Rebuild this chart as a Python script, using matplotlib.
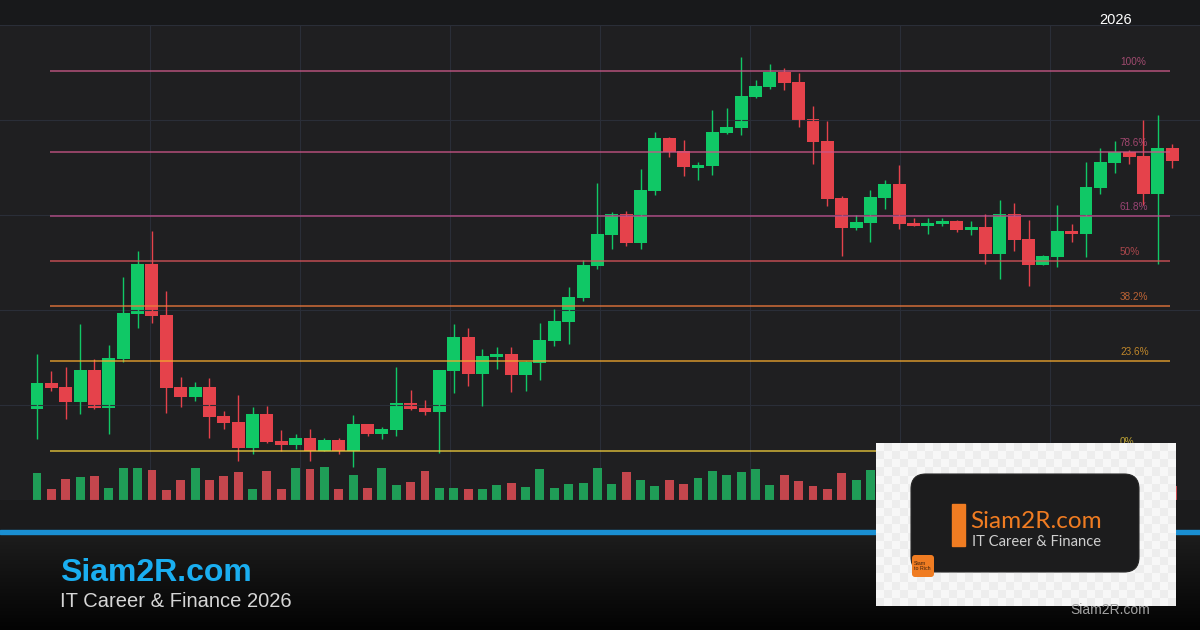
import numpy as np
import matplotlib

matplotlib.use("Agg")
import matplotlib.pyplot as plt
from matplotlib.patches import Rectangle, FancyBboxPatch
from matplotlib.colors import LinearSegmentedColormap, ListedColormap

plt.rcParams["font.family"] = ["Liberation Sans", "DejaVu Sans"]

# ── Data (price units) ──────────────────────────────────────────────────
opens = [91.3, 116.7, 113, 98, 130, 92, 141.3, 186, 236, 185,
         113, 103.3, 113, 84, 78, 52, 86, 59, 55.3, 62,
         49, 60, 49, 76, 66, 70, 97, 92, 88, 129,
         163, 126.3, 143.3, 146, 125, 136.7, 159, 178, 202.3, 234.3,
         265.3, 286, 257.3, 309.3, 362, 349, 332.3, 334, 367, 372,
         403, 413, 428, 418, 381, 359, 302, 272, 277, 302,
         316, 277, 274, 276, 279, 270, 273, 246, 286, 261,
         235, 243, 269, 266, 312, 337, 348, 344, 306, 352]
highs = [145.7, 129, 133, 175.7, 141, 154.7, 222.7, 248.7, 269, 209,
         123, 117.7, 122, 89, 105, 93.3, 94, 70, 66, 71,
         62, 62, 84.7, 76.5, 73.3, 132.7, 110, 100, 130.5, 176,
         171.7, 151, 153, 153, 139, 177, 191, 213, 240, 317,
         288, 288.7, 331, 368, 362.7, 360, 338, 390, 392, 443,
         420, 436, 432, 427, 394, 379, 304, 285, 310, 320,
         335, 282, 282, 282, 280, 279, 286, 300, 297, 280,
         245, 295, 276, 338, 352, 359, 350, 380, 385, 356]
lows = [61.3, 109.3, 81, 86.3, 91, 66.3, 138.3, 172.3, 177.3, 87.3,
        93.3, 99.3, 62.3, 71, 39.3, 45.7, 57.3, 48.7, 51.3, 39.3,
        49, 46.3, 32.7, 64.3, 61.3, 64, 90, 85.3, 47.3, 107,
        114, 94, 131, 108.3, 109.3, 120.3, 154.3, 156.3, 199.3, 231.3,
        251, 254.3, 251, 304.7, 343.3, 324, 320, 325, 365.7, 365,
        402, 411, 410, 373, 336, 294, 244, 270, 258, 291,
        271, 274, 266, 274, 268, 265, 236, 221, 249, 214,
        235, 233, 258, 243, 306, 327, 336, 295, 236, 332]
closes = [116.7, 112.3, 98, 130, 92, 142, 186.7, 236, 184.3, 112.3,
          103.3, 113, 83.3, 77.3, 52, 86, 58.3, 55.3, 62, 49.3,
          60, 49, 76, 66, 71.3, 97, 91, 88, 130, 163,
          126.3, 144, 146, 125, 138, 160, 179, 203, 235, 266,
          286, 257.3, 310, 362, 348, 333.3, 335, 368, 373, 404,
          414, 428, 417, 380, 358, 301, 272, 278, 303, 316,
          276, 274, 277, 279, 270, 273, 246, 286, 260, 235,
          244, 269, 266, 313, 338, 348, 343, 306, 352, 339]
volumes = [27, 11, 21, 23, 24, 12, 32, 32, 30, 10,
           20, 32, 20, 24, 28, 11, 29, 11, 32, 31,
           33, 11, 25, 12, 32, 15, 18, 29, 12, 12,
           11, 11, 15, 17, 13, 31, 12, 16, 17, 32,
           16, 28, 20, 14, 20, 16, 22, 29, 25, 28,
           31, 15, 25, 19, 14, 11, 27, 20, 30, 22,
           25, 12, 14, 12, 16, 12, 24, 28, 20, 26,
           14, 22, 12, 30, 26, 18, 14, 24, 30, 14]

FIB_LOW = 49
FIB_HIGH = 429
fib_ratios = [0, 0.236, 0.382, 0.5, 0.618, 0.786, 1.0]
fib_labels = ["0%", "23.6%", "38.2%", "50%", "61.8%", "78.6%", "100%"]
fib_colors = ["#f2cf3c", "#f5a92e", "#f07a3c", "#d9545a", "#c0508f", "#cc5588", "#cc5a8a"]

YEAR_LABEL = "2026"
BRAND = "Siam2R.com"
TAGLINE = "IT Career & Finance 2026"
LOGO_TAGLINE = "IT Career & Finance"

# ── Layout / style ──────────────────────────────────────────────────────
W, H, DPI = 1200, 630, 100
CHART_TOP, CHART_BOTTOM = 25, 500       # px
FIRST_PX, STEP_PX = 37, 14.37           # candle spacing in px
UP, DOWN = "#10c866", "#e5424b"
VOL_UP, VOL_DOWN = "#1f9d57", "#c4464d"
GRID = "#2a2e38"
CHART_BG = "#1f1f21"


def px_to_idx(px):
    return (np.asarray(px) - FIRST_PX) / STEP_PX


fig = plt.figure(figsize=(W / DPI, H / DPI), dpi=DPI, facecolor="#18191b")

# ── background layer (pixel coordinates) ──
bg = fig.add_axes([0, 0, 1, 1], zorder=0)
bg.axis("off")
bg.add_patch(Rectangle((0, 0), W, CHART_TOP, color="#18191b"))
bg.add_patch(Rectangle((0, CHART_BOTTOM), W, 30, color="#1b1b1c"))
bg.add_patch(Rectangle((0, 530), W, 4, color="#1a8fd2"))
fade = LinearSegmentedColormap.from_list("fade", ["#1d1d1d", "#030303"])
bg.imshow(np.linspace(0, 1, 100)[:, None], extent=(0, W, H, 534), cmap=fade, aspect="auto")
bg.text(60, 581, BRAND, color="#1aaef0", fontsize=23, fontweight="bold", va="baseline")
bg.text(60, 607, TAGLINE, color="#d6d6d6", fontsize=14.5, va="baseline")
bg.set_xlim(0, W)
bg.set_ylim(H, 0)

# ── chart axes ──
rect = [0, (H - CHART_BOTTOM) / H, 1, (CHART_BOTTOM - CHART_TOP) / H]
vol_ax = fig.add_axes(rect, zorder=1, facecolor=CHART_BG)
ax = fig.add_axes(rect, zorder=2, facecolor="none", sharex=vol_ax)

x = np.arange(len(opens))
o, h, l, c = map(np.asarray, (opens, highs, lows, closes))
up = c >= o

vol_ax.bar(x, volumes, width=0.62, color=np.where(up, VOL_UP, VOL_DOWN), linewidth=0)
vol_ax.set_ylim(0, CHART_BOTTOM - CHART_TOP)
vol_ax.set_xticks(px_to_idx(np.arange(150, W, 150)))
vol_ax.grid(axis="x", color=GRID, linewidth=0.8)
vol_ax.set_axisbelow(True)

colors = np.where(up, UP, DOWN)
ax.vlines(x, l, h, colors=colors, linewidth=1.0)
ax.bar(x, np.maximum(np.abs(c - o), 1.0), bottom=np.minimum(o, c), width=0.9,
       color=colors, linewidth=0)

fib_x0, fib_x1, label_x = px_to_idx([50, 1170, 1120])
for r, lab, col in zip(fib_ratios, fib_labels, fib_colors):
    level = FIB_LOW + r * (FIB_HIGH - FIB_LOW)
    ax.hlines(level, fib_x0, fib_x1, color=col, linewidth=1.1, alpha=0.85)
    ax.annotate(lab, (label_x, level), xytext=(0, 3), textcoords="offset points",
                color=col, alpha=0.75, fontsize=7.2, va="bottom", ha="left")

ax.set_ylim(0, CHART_BOTTOM - CHART_TOP)
ax.set_yticks(np.arange(0, CHART_BOTTOM - CHART_TOP + 1, 95))
ax.grid(axis="y", color=GRID, linewidth=0.8)
ax.set_xlim(px_to_idx(0), px_to_idx(W))

for a in (ax, vol_ax):
    a.tick_params(length=0, labelbottom=False, labelleft=False)
    for s in a.spines.values():
        s.set_visible(False)

# ── overlay: year label and logo card ──
ov = fig.add_axes([0, 0, 1, 1], zorder=3, facecolor="none")
ov.axis("off")
ov.text(1116, 20, YEAR_LABEL, color="white", fontsize=10.5, ha="center", va="center")

checker = (np.indices((20, 37)).sum(axis=0) % 2).astype(float)
ov.imshow(checker, extent=(876, 1176, 606, 443), cmap=ListedColormap(["#f7f7f7", "#ededed"]),
          interpolation="nearest", aspect="auto")

card = FancyBboxPatch((911, 474), 228, 98, boxstyle="round,pad=0,rounding_size=15",
                      facecolor="#1c1c1d", edgecolor="#2a2a2a", linewidth=0.8)
ov.add_patch(card)
warm = LinearSegmentedColormap.from_list("warm", ["#3e2b1e", "#28211d", "#1c1c1d", "#1c1c1d"])
im = ov.imshow(np.linspace(0, 1, 200)[None, :], extent=(911, 1139, 572, 474), cmap=warm, aspect="auto")
im.set_clip_path(card)

ov.add_patch(Rectangle((952, 504), 13, 42, color="#f07c22"))
ov.text(970, 528, BRAND, color="#f07c22", fontsize=17.5, family=["Lato", "DejaVu Sans"],
        va="baseline")
ov.text(972, 546, LOGO_TAGLINE, color="#cfcfcf", fontsize=10.6, family=["Lato", "DejaVu Sans"],
        va="baseline")
badge = FancyBboxPatch((912, 555), 22, 22, boxstyle="round,pad=0,rounding_size=3",
                       facecolor="#f07c22", edgecolor="none")
ov.add_patch(badge)
ov.text(914, 566, "Siam\nto Rich", color="#3a200f", fontsize=3.8, va="center", ha="left",
        linespacing=1.1)

ov.text(1110, 610, BRAND, color="#a3a3a3", fontsize=10, ha="center", va="center")
ov.set_xlim(0, W)
ov.set_ylim(H, 0)

fig.savefig("out.png", dpi=DPI, facecolor=fig.get_facecolor())
